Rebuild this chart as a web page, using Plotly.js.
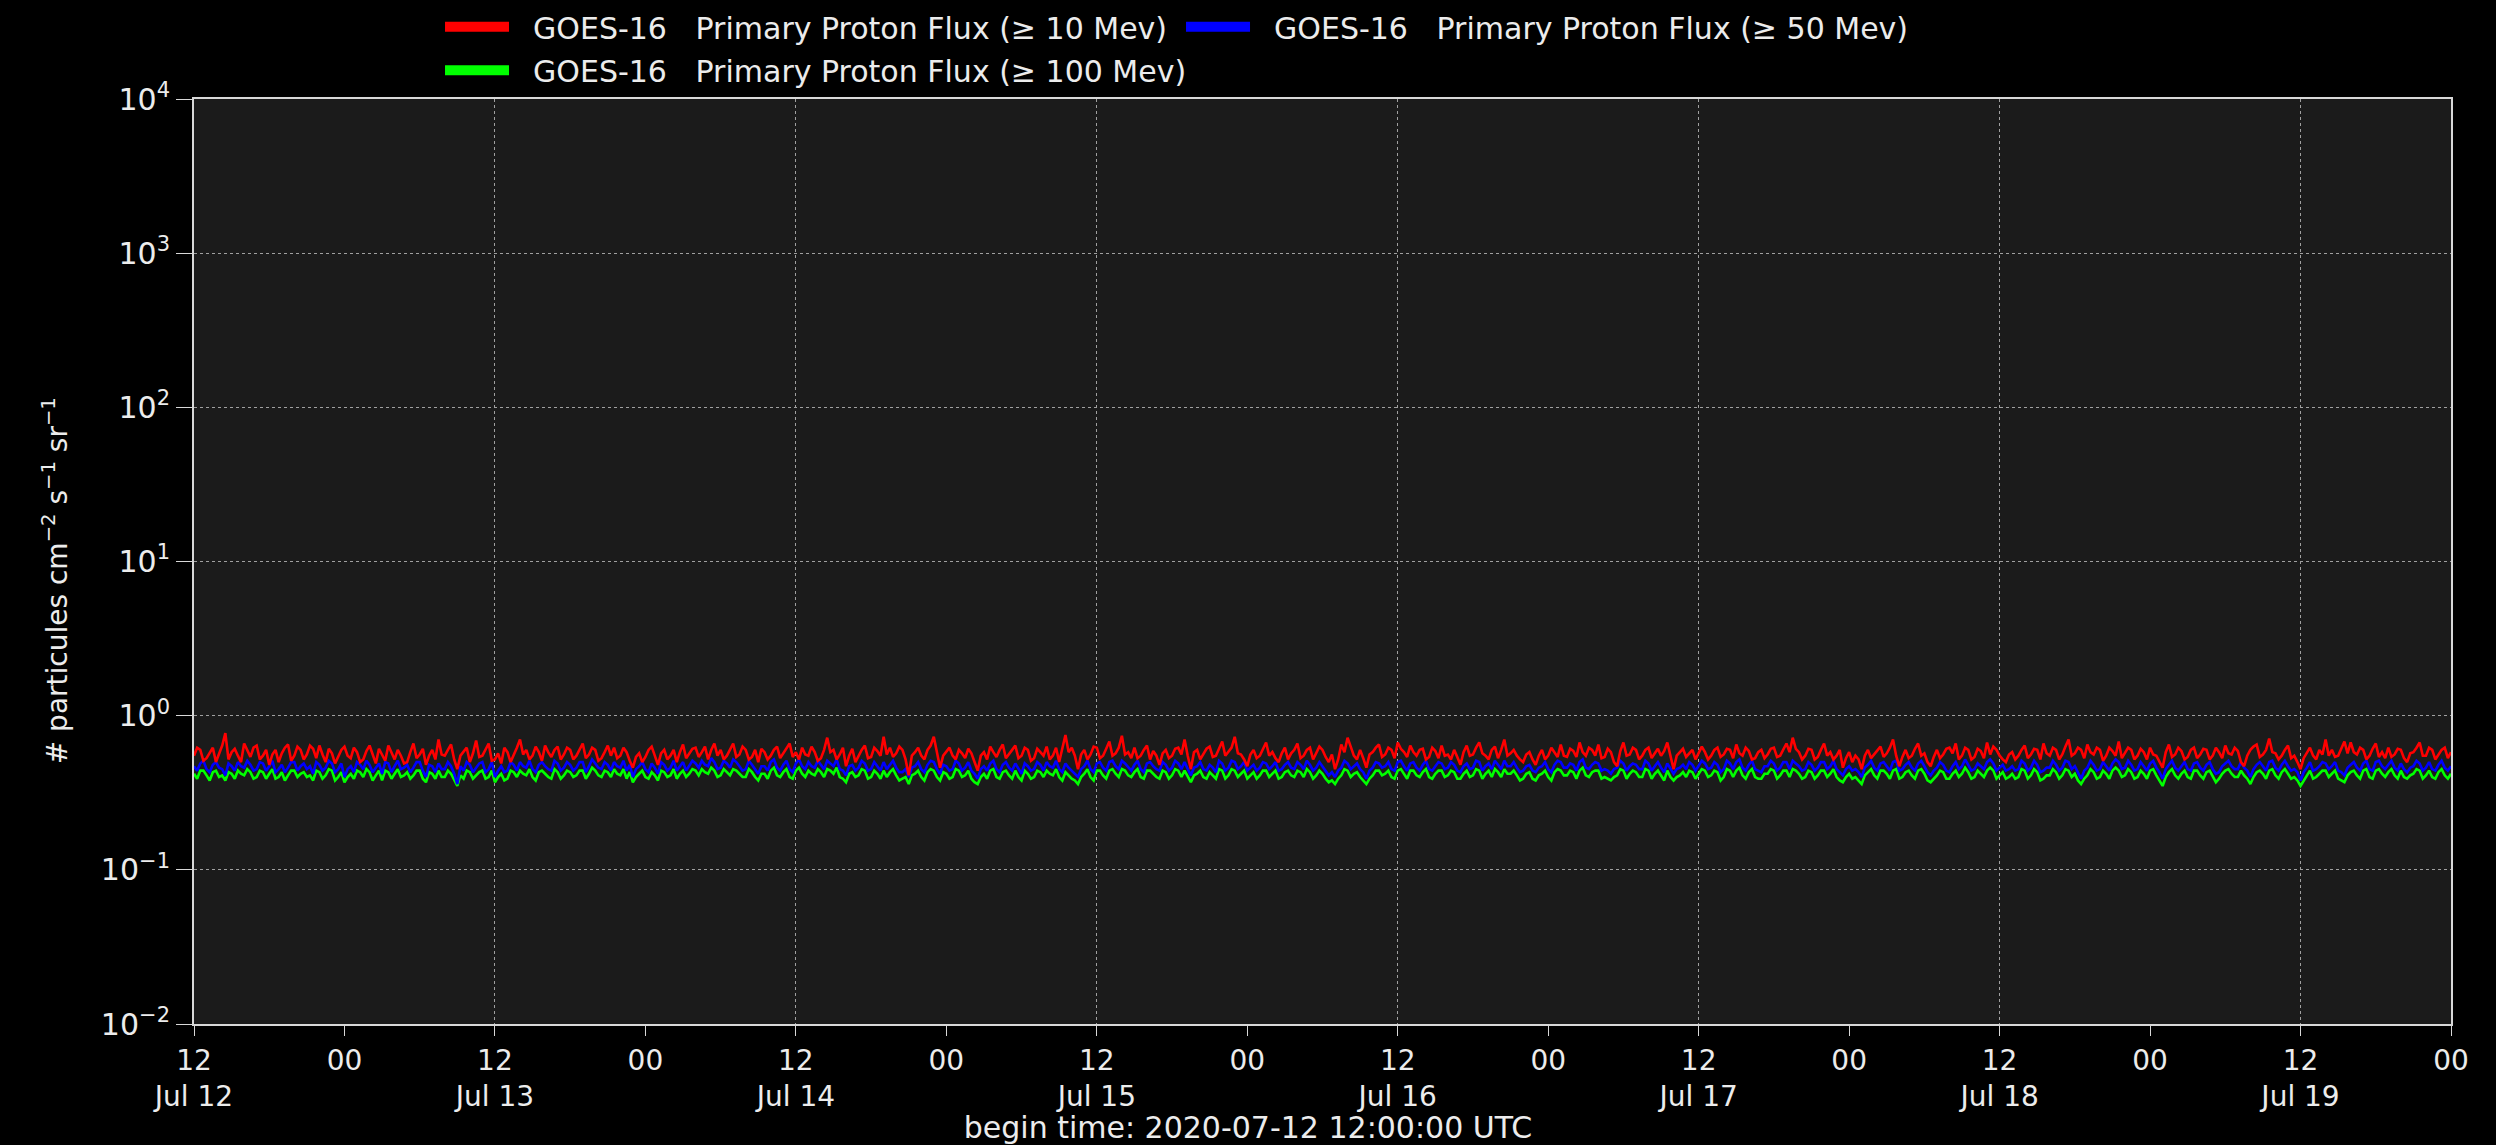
<!DOCTYPE html>
<html><head><meta charset="utf-8">
<script src="https://cdn.plot.ly/plotly-3.0.1.min.js"></script>
<style>html,body{margin:0;padding:0;background:#000;}#chart{width:2496px;height:1145px;}</style>
</head><body><div id="chart"></div><script>
// ---- data ----
// samples on the hour / half hour, starting 2020-07-12 12:00 UTC
const startTime = '2020-07-12T12:00:00Z';
const stepMinutes = 30;

const flux10 = [
0.55,0.60,0.53,0.62,0.56,0.77,0.58,0.55,0.66,0.54,
0.64,0.55,0.48,0.60,0.57,0.65,0.55,0.60,0.56,0.61,
0.64,0.50,0.57,0.55,0.63,0.53,0.58,0.52,0.64,0.49,
0.56,0.64,0.52,0.55,0.50,0.66,0.56,0.48,0.60,0.70,
0.55,0.65,0.45,0.58,0.50,0.69,0.55,0.66,0.52,0.49,
0.58,0.55,0.70,0.60,0.55,0.58,0.64,0.54,0.63,0.56,
0.60,0.55,0.66,0.56,0.60,0.53,0.64,0.62,0.55,0.58,
0.46,0.57,0.54,0.63,0.48,0.60,0.55,0.50,0.65,0.57,
0.62,0.58,0.52,0.66,0.60,0.55,0.66,0.56,0.60,0.54,
0.50,0.58,0.55,0.63,0.57,0.66,0.58,0.62,0.55,0.58,
0.53,0.72,0.60,0.56,0.47,0.61,0.55,0.64,0.54,0.59,
0.73,0.62,0.57,0.60,0.41,0.58,0.55,0.60,0.73,0.46,
0.58,0.55,0.60,0.53,0.57,0.44,0.58,0.63,0.54,0.65,
0.56,0.64,0.55,0.60,0.53,0.58,0.63,0.55,0.50,0.75,
0.62,0.45,0.60,0.56,0.62,0.55,0.68,0.57,0.74,0.58,
0.62,0.55,0.64,0.59,0.48,0.60,0.55,0.62,0.70,0.45,
0.60,0.56,0.63,0.55,0.68,0.58,0.73,0.56,0.47,0.60,
0.55,0.67,0.58,0.50,0.62,0.57,0.66,0.55,0.62,0.57,
0.60,0.50,0.45,0.65,0.72,0.55,0.60,0.46,0.58,0.65,
0.56,0.60,0.67,0.58,0.64,0.55,0.61,0.54,0.59,0.64,
0.56,0.60,0.48,0.64,0.56,0.67,0.55,0.60,0.53,0.70,
0.57,0.55,0.50,0.58,0.48,0.60,0.55,0.58,0.65,0.54,
0.59,0.67,0.55,0.60,0.65,0.54,0.58,0.47,0.67,0.56,
0.60,0.55,0.62,0.57,0.55,0.67,0.45,0.58,0.54,0.60,
0.57,0.58,0.55,0.62,0.56,0.60,0.65,0.55,0.59,0.53,
0.60,0.56,0.62,0.55,0.66,0.72,0.58,0.55,0.60,0.54,
0.66,0.58,0.55,0.46,0.58,0.55,0.45,0.60,0.56,0.63,
0.57,0.70,0.47,0.60,0.55,0.66,0.57,0.47,0.60,0.56,
0.62,0.66,0.55,0.60,0.54,0.59,0.67,0.63,0.55,0.50,
0.58,0.55,0.64,0.56,0.60,0.66,0.55,0.60,0.56,0.70,
0.57,0.60,0.65,0.56,0.60,0.55,0.59,0.68,0.57,0.60,
0.55,0.58,0.62,0.55,0.46,0.65,0.56,0.59,0.54,0.62,
0.56,0.60,0.55,0.58,0.64,0.56,0.59,0.47,0.60,0.65,
0.56,0.71,0.57,0.55,0.64,0.55,0.45,0.57,0.55,0.60,
0.70,0.60,0.55,0.68,0.67,0.56,0.60,0.55,0.66,0.58,
0.62,0.56,0.60,0.50,0.58,0.67,0.55,0.60,0.56,0.62,
0.58];
// samples at quarter past / quarter to (between the ones above)
const flux10Between = [
0.62,0.51,0.58,0.50,0.64,0.52,0.61,0.50,0.59,0.62,
0.52,0.60,0.56,0.50,0.62,0.51,0.63,0.52,0.64,0.53,
0.56,0.61,0.49,0.60,0.55,0.62,0.50,0.59,0.55,0.61,
0.51,0.57,0.60,0.49,0.58,0.53,0.61,0.55,0.52,0.56,
0.60,0.52,0.55,0.62,0.57,0.54,0.60,0.51,0.57,0.62,
0.50,0.62,0.56,0.52,0.63,0.51,0.58,0.60,0.52,0.62,
0.52,0.60,0.53,0.62,0.51,0.58,0.55,0.53,0.62,0.51,
0.54,0.50,0.60,0.55,0.57,0.52,0.60,0.58,0.53,0.61,
0.54,0.63,0.60,0.55,0.52,0.61,0.54,0.63,0.52,0.60,
0.61,0.52,0.60,0.53,0.62,0.54,0.52,0.56,0.63,0.51,
0.60,0.58,0.52,0.62,0.55,0.50,0.60,0.53,0.62,0.55,
0.56,0.54,0.63,0.52,0.55,0.62,0.52,0.64,0.58,0.55,
0.62,0.52,0.57,0.61,0.50,0.55,0.52,0.58,0.60,0.53,
0.60,0.53,0.62,0.51,0.61,0.55,0.52,0.62,0.60,0.58,
0.55,0.56,0.52,0.63,0.53,0.61,0.55,0.62,0.56,0.53,
0.53,0.60,0.52,0.55,0.57,0.53,0.61,0.56,0.55,0.58,
0.52,0.61,0.54,0.62,0.55,0.62,0.57,0.52,0.56,0.53,
0.61,0.55,0.53,0.57,0.52,0.60,0.53,0.60,0.52,0.63,
0.54,0.56,0.52,0.58,0.62,0.52,0.53,0.56,0.62,0.54,
0.62,0.53,0.61,0.54,0.58,0.60,0.52,0.62,0.53,0.55,
0.52,0.54,0.58,0.55,0.62,0.57,0.52,0.63,0.60,0.55,
0.60,0.52,0.56,0.52,0.55,0.52,0.62,0.54,0.55,0.61,
0.54,0.58,0.62,0.55,0.53,0.61,0.50,0.59,0.55,0.62,
0.52,0.60,0.53,0.61,0.59,0.54,0.55,0.61,0.57,0.52,
0.63,0.52,0.60,0.54,0.61,0.53,0.57,0.62,0.52,0.58,
0.53,0.61,0.54,0.60,0.58,0.61,0.52,0.61,0.52,0.60,
0.55,0.52,0.60,0.53,0.50,0.52,0.55,0.53,0.60,0.54,
0.62,0.55,0.54,0.53,0.61,0.55,0.50,0.54,0.53,0.61,
0.57,0.52,0.62,0.52,0.61,0.53,0.56,0.60,0.52,0.56,
0.52,0.60,0.53,0.61,0.52,0.57,0.62,0.52,0.63,0.55,
0.62,0.53,0.58,0.62,0.51,0.62,0.55,0.53,0.62,0.52,
0.61,0.52,0.56,0.50,0.58,0.54,0.62,0.52,0.60,0.53,
0.61,0.52,0.62,0.53,0.57,0.62,0.50,0.55,0.63,0.54,
0.60,0.58,0.52,0.60,0.53,0.50,0.53,0.62,0.52,0.56,
0.55,0.54,0.61,0.57,0.58,0.62,0.52,0.61,0.54,0.53,
0.54,0.61,0.53,0.57,0.62,0.55,0.62,0.52,0.60,0.53];

const flux50 = [
0.47,0.49,0.45,0.48,0.46,0.41,0.47,0.50,0.46,0.48,
0.45,0.49,0.47,0.43,0.48,0.46,0.50,0.47,0.45,0.42,
0.48,0.46,0.49,0.45,0.40,0.47,0.50,0.45,0.48,0.46,
0.42,0.49,0.47,0.45,0.48,0.46,0.50,0.40,0.47,0.49,
0.45,0.47,0.36,0.44,0.48,0.46,0.50,0.45,0.40,0.47,
0.44,0.48,0.50,0.46,0.45,0.48,0.47,0.44,0.49,0.46,
0.48,0.46,0.50,0.47,0.49,0.45,0.48,0.50,0.46,0.44,
0.40,0.47,0.45,0.49,0.42,0.48,0.46,0.44,0.50,0.47,
0.49,0.51,0.47,0.50,0.46,0.49,0.52,0.47,0.45,0.48,
0.42,0.47,0.50,0.46,0.48,0.45,0.49,0.47,0.50,0.46,
0.48,0.51,0.47,0.45,0.41,0.48,0.46,0.49,0.45,0.47,
0.50,0.48,0.46,0.43,0.40,0.47,0.45,0.48,0.50,0.42,
0.47,0.45,0.49,0.46,0.44,0.39,0.47,0.49,0.45,0.48,
0.46,0.49,0.42,0.47,0.45,0.48,0.50,0.46,0.45,0.49,
0.44,0.40,0.47,0.45,0.49,0.46,0.50,0.47,0.51,0.46,
0.48,0.45,0.49,0.47,0.44,0.48,0.46,0.49,0.50,0.41,
0.47,0.45,0.48,0.43,0.49,0.46,0.50,0.47,0.44,0.48,
0.46,0.49,0.47,0.44,0.48,0.46,0.50,0.45,0.48,0.46,
0.47,0.41,0.40,0.46,0.49,0.47,0.45,0.39,0.46,0.49,
0.47,0.45,0.50,0.47,0.49,0.46,0.48,0.45,0.47,0.49,
0.46,0.48,0.43,0.49,0.46,0.50,0.47,0.45,0.48,0.51,
0.47,0.46,0.44,0.48,0.43,0.47,0.45,0.48,0.50,0.46,
0.48,0.50,0.46,0.48,0.49,0.45,0.42,0.46,0.49,0.47,
0.48,0.45,0.49,0.47,0.46,0.49,0.42,0.46,0.45,0.48,
0.47,0.49,0.46,0.48,0.45,0.49,0.50,0.46,0.48,0.45,
0.43,0.47,0.49,0.46,0.50,0.51,0.47,0.45,0.48,0.46,
0.50,0.47,0.45,0.41,0.47,0.45,0.40,0.48,0.46,0.49,
0.47,0.50,0.44,0.48,0.46,0.49,0.47,0.41,0.46,0.48,
0.43,0.50,0.47,0.48,0.45,0.47,0.50,0.49,0.46,0.44,
0.47,0.45,0.49,0.46,0.48,0.44,0.46,0.48,0.46,0.50,
0.47,0.39,0.46,0.48,0.45,0.47,0.49,0.50,0.46,0.48,
0.45,0.47,0.49,0.46,0.39,0.48,0.46,0.47,0.45,0.49,
0.46,0.48,0.45,0.43,0.49,0.47,0.45,0.46,0.40,0.48,
0.47,0.50,0.46,0.48,0.47,0.45,0.38,0.46,0.44,0.47,
0.49,0.47,0.44,0.41,0.48,0.46,0.49,0.45,0.50,0.47,
0.48,0.46,0.49,0.43,0.47,0.49,0.46,0.45,0.48,0.46,
0.47];
const flux50Between = [
0.44,0.51,0.43,0.50,0.45,0.49,0.44,0.47,0.51,0.44,
0.50,0.44,0.51,0.45,0.43,0.50,0.44,0.49,0.47,0.50,
0.44,0.51,0.43,0.49,0.45,0.43,0.48,0.51,0.43,0.49,
0.50,0.43,0.51,0.46,0.43,0.50,0.44,0.48,0.43,0.45,
0.50,0.42,0.47,0.50,0.43,0.49,0.43,0.50,0.44,0.43,
0.50,0.44,0.47,0.51,0.43,0.50,0.45,0.51,0.44,0.50,
0.44,0.50,0.43,0.52,0.46,0.50,0.44,0.47,0.51,0.48,
0.45,0.50,0.43,0.46,0.50,0.44,0.51,0.47,0.44,0.51,
0.46,0.48,0.53,0.45,0.51,0.46,0.50,0.44,0.51,0.45,
0.47,0.44,0.52,0.44,0.51,0.43,0.52,0.45,0.47,0.51,
0.45,0.49,0.52,0.44,0.47,0.44,0.51,0.44,0.50,0.44,
0.45,0.51,0.43,0.45,0.46,0.50,0.43,0.51,0.45,0.48,
0.44,0.51,0.44,0.50,0.42,0.45,0.44,0.51,0.43,0.50,
0.44,0.45,0.49,0.44,0.50,0.44,0.47,0.51,0.43,0.46,
0.42,0.45,0.51,0.43,0.50,0.44,0.51,0.45,0.49,0.44,
0.51,0.43,0.50,0.45,0.50,0.44,0.51,0.45,0.45,0.46,
0.50,0.44,0.46,0.51,0.44,0.51,0.45,0.50,0.46,0.44,
0.50,0.45,0.50,0.45,0.50,0.45,0.48,0.51,0.44,0.50,
0.44,0.43,0.44,0.51,0.45,0.49,0.43,0.44,0.50,0.46,
0.50,0.44,0.51,0.44,0.50,0.44,0.51,0.44,0.50,0.45,
0.50,0.44,0.47,0.45,0.51,0.44,0.49,0.51,0.45,0.47,
0.50,0.43,0.47,0.44,0.46,0.50,0.43,0.51,0.46,0.49,
0.44,0.52,0.45,0.50,0.44,0.44,0.45,0.51,0.44,0.49,
0.45,0.51,0.44,0.50,0.43,0.45,0.45,0.48,0.50,0.44,
0.51,0.45,0.50,0.43,0.51,0.45,0.52,0.44,0.51,0.44,
0.47,0.51,0.44,0.50,0.45,0.49,0.44,0.50,0.44,0.50,
0.45,0.51,0.43,0.45,0.44,0.43,0.46,0.51,0.44,0.50,
0.44,0.51,0.45,0.50,0.44,0.51,0.43,0.44,0.50,0.44,
0.47,0.45,0.52,0.44,0.49,0.45,0.52,0.44,0.48,0.45,
0.44,0.51,0.44,0.51,0.43,0.46,0.51,0.44,0.51,0.45,
0.43,0.44,0.51,0.44,0.50,0.44,0.52,0.45,0.51,0.44,
0.50,0.44,0.51,0.43,0.45,0.51,0.44,0.50,0.44,0.50,
0.44,0.50,0.42,0.47,0.51,0.45,0.50,0.44,0.45,0.50,
0.44,0.51,0.44,0.51,0.44,0.43,0.43,0.50,0.45,0.50,
0.45,0.50,0.43,0.46,0.50,0.44,0.51,0.44,0.51,0.45,
0.51,0.44,0.45,0.46,0.51,0.44,0.50,0.44,0.51,0.44];

const flux100 = [
0.42,0.44,0.41,0.43,0.40,0.38,0.42,0.44,0.41,0.43,
0.40,0.43,0.42,0.39,0.43,0.41,0.44,0.42,0.40,0.38,
0.43,0.41,0.44,0.40,0.37,0.42,0.44,0.40,0.43,0.41,
0.38,0.43,0.42,0.40,0.43,0.41,0.44,0.37,0.42,0.44,
0.40,0.42,0.35,0.39,0.43,0.41,0.44,0.40,0.37,0.42,
0.39,0.43,0.44,0.41,0.40,0.43,0.42,0.39,0.43,0.41,
0.43,0.41,0.44,0.42,0.44,0.40,0.43,0.45,0.41,0.39,
0.37,0.42,0.40,0.43,0.38,0.43,0.41,0.39,0.44,0.42,
0.44,0.45,0.42,0.44,0.41,0.43,0.45,0.42,0.40,0.43,
0.38,0.42,0.44,0.41,0.43,0.40,0.44,0.42,0.44,0.41,
0.43,0.45,0.42,0.40,0.37,0.43,0.41,0.44,0.40,0.42,
0.44,0.43,0.41,0.39,0.36,0.42,0.40,0.43,0.44,0.38,
0.42,0.40,0.44,0.41,0.39,0.36,0.42,0.44,0.40,0.43,
0.41,0.44,0.38,0.42,0.40,0.43,0.44,0.41,0.40,0.43,
0.39,0.36,0.42,0.40,0.44,0.41,0.44,0.42,0.45,0.41,
0.43,0.40,0.44,0.42,0.39,0.43,0.41,0.44,0.44,0.37,
0.42,0.40,0.43,0.39,0.44,0.41,0.44,0.42,0.39,0.43,
0.41,0.44,0.42,0.39,0.43,0.41,0.44,0.40,0.43,0.41,
0.42,0.37,0.36,0.41,0.44,0.42,0.40,0.36,0.41,0.44,
0.42,0.40,0.44,0.42,0.44,0.41,0.43,0.40,0.42,0.44,
0.41,0.43,0.39,0.44,0.41,0.44,0.42,0.40,0.43,0.45,
0.42,0.41,0.39,0.43,0.38,0.42,0.40,0.43,0.44,0.41,
0.43,0.44,0.41,0.43,0.44,0.40,0.38,0.41,0.44,0.42,
0.43,0.40,0.44,0.42,0.41,0.44,0.38,0.41,0.40,0.43,
0.42,0.44,0.41,0.43,0.40,0.44,0.44,0.41,0.43,0.40,
0.39,0.42,0.44,0.41,0.44,0.45,0.42,0.40,0.43,0.41,
0.44,0.42,0.40,0.37,0.42,0.40,0.36,0.43,0.41,0.44,
0.42,0.44,0.39,0.43,0.41,0.44,0.42,0.37,0.41,0.43,
0.39,0.44,0.42,0.43,0.40,0.42,0.44,0.44,0.41,0.39,
0.42,0.40,0.44,0.41,0.43,0.39,0.41,0.43,0.41,0.44,
0.42,0.36,0.41,0.43,0.40,0.42,0.44,0.44,0.41,0.43,
0.40,0.42,0.44,0.41,0.35,0.43,0.41,0.42,0.40,0.44,
0.41,0.43,0.40,0.39,0.44,0.42,0.40,0.41,0.36,0.43,
0.42,0.44,0.41,0.43,0.42,0.40,0.35,0.41,0.39,0.42,
0.44,0.42,0.39,0.37,0.43,0.41,0.44,0.40,0.44,0.42,
0.43,0.41,0.44,0.39,0.42,0.44,0.41,0.40,0.43,0.41,
0.42];
const flux100Between = [
0.39,0.44,0.38,0.44,0.41,0.43,0.39,0.42,0.45,0.39,
0.44,0.39,0.45,0.40,0.38,0.44,0.40,0.43,0.41,0.44,
0.39,0.45,0.38,0.43,0.40,0.39,0.43,0.45,0.38,0.44,
0.44,0.39,0.45,0.41,0.39,0.44,0.39,0.43,0.39,0.40,
0.44,0.38,0.41,0.44,0.39,0.43,0.39,0.44,0.40,0.38,
0.44,0.40,0.42,0.45,0.38,0.44,0.40,0.45,0.39,0.44,
0.40,0.44,0.39,0.46,0.41,0.44,0.40,0.42,0.45,0.43,
0.40,0.44,0.39,0.41,0.44,0.40,0.45,0.42,0.40,0.45,
0.41,0.43,0.46,0.40,0.45,0.41,0.44,0.40,0.45,0.40,
0.42,0.39,0.46,0.40,0.45,0.39,0.46,0.40,0.42,0.45,
0.40,0.44,0.46,0.39,0.42,0.40,0.45,0.39,0.44,0.39,
0.40,0.45,0.38,0.40,0.41,0.44,0.38,0.45,0.40,0.43,
0.39,0.45,0.40,0.44,0.37,0.40,0.39,0.45,0.39,0.44,
0.39,0.40,0.44,0.39,0.44,0.40,0.42,0.45,0.38,0.41,
0.38,0.40,0.45,0.38,0.44,0.39,0.45,0.40,0.44,0.40,
0.45,0.39,0.44,0.40,0.44,0.39,0.45,0.40,0.40,0.41,
0.44,0.39,0.41,0.45,0.39,0.45,0.40,0.44,0.41,0.39,
0.44,0.40,0.44,0.40,0.44,0.40,0.43,0.45,0.39,0.44,
0.39,0.38,0.39,0.45,0.40,0.43,0.38,0.39,0.44,0.41,
0.44,0.39,0.45,0.39,0.44,0.40,0.45,0.39,0.44,0.40,
0.44,0.39,0.42,0.40,0.45,0.39,0.44,0.45,0.40,0.42,
0.44,0.38,0.42,0.39,0.41,0.44,0.38,0.45,0.41,0.44,
0.39,0.46,0.40,0.44,0.39,0.39,0.40,0.45,0.39,0.44,
0.40,0.45,0.39,0.44,0.38,0.40,0.40,0.43,0.44,0.39,
0.45,0.40,0.44,0.38,0.45,0.40,0.46,0.39,0.45,0.39,
0.42,0.45,0.39,0.44,0.40,0.44,0.39,0.44,0.39,0.44,
0.40,0.45,0.38,0.40,0.39,0.38,0.41,0.45,0.39,0.44,
0.39,0.45,0.40,0.44,0.39,0.45,0.38,0.39,0.44,0.39,
0.42,0.40,0.46,0.39,0.44,0.40,0.46,0.39,0.43,0.40,
0.39,0.45,0.39,0.45,0.38,0.41,0.45,0.39,0.45,0.40,
0.38,0.39,0.45,0.39,0.44,0.39,0.46,0.40,0.45,0.39,
0.44,0.39,0.45,0.38,0.40,0.45,0.39,0.44,0.39,0.44,
0.39,0.44,0.37,0.42,0.45,0.40,0.44,0.39,0.40,0.44,
0.39,0.45,0.39,0.45,0.39,0.38,0.38,0.44,0.40,0.44,
0.40,0.44,0.38,0.41,0.44,0.39,0.45,0.39,0.45,0.40,
0.45,0.39,0.40,0.41,0.45,0.39,0.44,0.39,0.45,0.39];

const seriesNames = [
  '\u00a0\u00a0GOES-16\u00a0\u00a0 Primary Proton Flux (\u2265 10 Mev)',
  '\u00a0\u00a0GOES-16\u00a0\u00a0 Primary Proton Flux (\u2265 50 Mev)',
  '\u00a0\u00a0GOES-16\u00a0\u00a0 Primary Proton Flux (\u2265 100 Mev)'
];

const tickDates = [
  '2020-07-12 12:00','2020-07-13 00:00','2020-07-13 12:00','2020-07-14 00:00',
  '2020-07-14 12:00','2020-07-15 00:00','2020-07-15 12:00','2020-07-16 00:00',
  '2020-07-16 12:00','2020-07-17 00:00','2020-07-17 12:00','2020-07-18 00:00',
  '2020-07-18 12:00','2020-07-19 00:00','2020-07-19 12:00','2020-07-20 00:00'
];
const tickLabels = [
  '12<br>Jul 12','00','12<br>Jul 13','00','12<br>Jul 14','00','12<br>Jul 15','00',
  '12<br>Jul 16','00','12<br>Jul 17','00','12<br>Jul 18','00','12<br>Jul 19','00'
];
const yTickVals = [0.01, 0.1, 1, 10, 100, 1000, 10000];
const yTickLabels = ['10<sup>\u22122</sup>','10<sup>\u22121</sup>','10<sup>0</sup>','10<sup>1</sup>','10<sup>2</sup>','10<sup>3</sup>','10<sup>4</sup>'];
const xRange = ['2020-07-12 12:00', '2020-07-20 00:00'];
const yTitle = '# particules cm<sup>\u22122</sup> s<sup>\u22121</sup> sr<sup>\u22121</sup>';
const bottomTitle = 'begin time: 2020-07-12 12:00:00 UTC';

// ---- build ----
function fmt(ms) { return new Date(ms).toISOString().slice(0, 19).replace('T', ' '); }
function series(onStep, between) {
  const t0 = Date.parse(startTime), step = stepMinutes * 60000;
  const xs = [], ys = [];
  onStep.forEach((v, i) => {
    xs.push(fmt(t0 + i * step)); ys.push(v);
    if (i < between.length) { xs.push(fmt(t0 + i * step + step / 2)); ys.push(between[i]); }
  });
  return {x: xs, y: ys};
}
const s10 = series(flux10, flux10Between);
const s50 = series(flux50, flux50Between);
const s100 = series(flux100, flux100Between);

const FONT = 'DejaVu Sans, sans-serif';
const TXT = '#ececec';

const traces = [
  {x: s100.x, y: s100.y, type: 'scatter', mode: 'lines', line: {color: '#00ff00', width: 2.6}, showlegend: false, name: seriesNames[2]},
  {x: s50.x, y: s50.y, type: 'scatter', mode: 'lines', line: {color: '#0000ff', width: 2.6}, showlegend: false, name: seriesNames[1]},
  {x: s10.x, y: s10.y, type: 'scatter', mode: 'lines', line: {color: '#ff0000', width: 2.6}, showlegend: false, name: seriesNames[0]},
  // legend swatches
  {x: [null], y: [null], xaxis: 'x2', type: 'scatter', mode: 'lines', line: {color: '#ff0000', width: 16}, name: seriesNames[0], legend: 'legend'},
  {x: [null], y: [null], xaxis: 'x2', type: 'scatter', mode: 'lines', line: {color: '#0000ff', width: 16}, name: seriesNames[1], legend: 'legend'},
  {x: [null], y: [null], xaxis: 'x2', type: 'scatter', mode: 'lines', line: {color: '#00ff00', width: 16}, name: seriesNames[2], legend: 'legend2'}
];

const legendCommon = {
  orientation: 'h', xanchor: 'left', yanchor: 'middle',
  font: {family: FONT, size: 30, color: TXT},
  bgcolor: 'rgba(0,0,0,0)', borderwidth: 0, itemwidth: 64,
  itemclick: false, itemdoubleclick: false
};

const layout = {
  width: 2496, height: 1145,
  paper_bgcolor: '#000000', plot_bgcolor: '#1b1b1b',
  margin: {l: 194, r: 45, t: 99, b: 121, pad: 0, autoexpand: false},
  font: {family: FONT, size: 28, color: TXT},
  title: {text: bottomTitle, font: {family: FONT, size: 30, color: TXT}, xref: 'container', x: 0.5, xanchor: 'center', yref: 'container', y: 0.006, yanchor: 'bottom'},
  xaxis: {
    type: 'date', range: xRange, tickmode: 'array', tickvals: tickDates, ticktext: tickLabels,
    showgrid: false, zeroline: false,
    showline: true, linecolor: '#d8d8d8', linewidth: 2, mirror: true,
    ticks: 'outside', ticklen: 10, tickwidth: 1, tickcolor: '#d8d8d8',
    tickfont: {family: FONT, size: 28, color: TXT}, automargin: false
  },
  xaxis2: {
    type: 'date', range: xRange, overlaying: 'x', matches: 'x', side: 'bottom',
    dtick: 86400000, tick0: '2020-07-12 12:00',
    showgrid: true, gridcolor: '#a0a0a0', gridwidth: 1, griddash: 'dot',
    showticklabels: false, ticks: '', showline: false, zeroline: false
  },
  yaxis: {
    type: 'log', range: [-2, 4], tickmode: 'array', tickvals: yTickVals, ticktext: yTickLabels,
    showgrid: true, gridcolor: '#a0a0a0', gridwidth: 1, griddash: 'dot', zeroline: false,
    showline: true, linecolor: '#d8d8d8', linewidth: 2, mirror: true,
    ticks: 'outside', ticklen: 16, tickwidth: 1, tickcolor: '#d8d8d8',
    tickfont: {family: FONT, size: 30, color: TXT}, automargin: false
  },
  annotations: [{
    text: yTitle, textangle: -90, showarrow: false,
    xref: 'paper', yref: 'paper', x: -0.061, y: 0.479, xanchor: 'center', yanchor: 'middle',
    font: {family: FONT, size: 28, color: TXT}
  }],
  legend: Object.assign({}, legendCommon, {x: 0.109, y: 1.078, entrywidth: 662, entrywidthmode: 'pixels'}),
  legend2: Object.assign({}, legendCommon, {x: 0.109, y: 1.031}),
  showlegend: true
};

Plotly.newPlot('chart', traces, layout, {displayModeBar: false, staticPlot: true});
</script></body></html>
